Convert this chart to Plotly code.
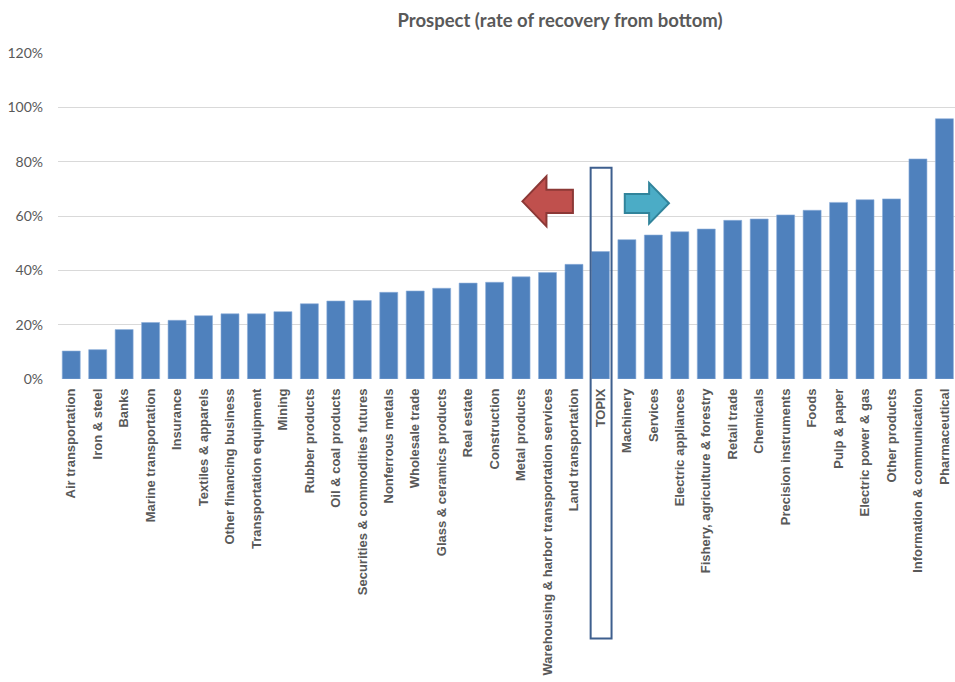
import plotly.graph_objects as go

# Sector recovery rates from the bottom, sorted ascending (TOPIX shown as the benchmark)
sectors = [
    "Air transportation", "Iron & steel", "Banks", "Marine transportation", "Insurance",
    "Textiles & apparels", "Other financing business", "Transportation equipment", "Mining",
    "Rubber products", "Oil & coal products", "Securities & commodities futures",
    "Nonferrous metals", "Wholesale trade", "Glass & ceramics products", "Real estate",
    "Construction", "Metal products", "Warehousing & harbor transportation services",
    "Land transportation", "TOPIX", "Machinery", "Services", "Electric appliances",
    "Fishery, agriculture & forestry", "Retail trade", "Chemicals", "Precision instruments",
    "Foods", "Pulp & paper", "Electric power & gas", "Other products",
    "Information & communication", "Pharmaceutical",
]
recovery = [
    0.103, 0.108, 0.182, 0.208, 0.216, 0.233, 0.240, 0.240, 0.248, 0.277, 0.287, 0.289,
    0.319, 0.324, 0.334, 0.353, 0.356, 0.376, 0.392, 0.422, 0.469, 0.513, 0.530, 0.542,
    0.552, 0.584, 0.589, 0.604, 0.621, 0.650, 0.660, 0.663, 0.810, 0.958,
]
y_ticks = [0, 0.2, 0.4, 0.6, 0.8, 1.0, 1.2]
y_tick_text = ["0%", "20%", "40%", "60%", "80%", "100%", "120%"]
benchmark = "TOPIX"

idx = list(range(len(sectors)))
bench_i = sectors.index(benchmark)
x_range = [-0.5, 33.4]

fig = go.Figure(
    go.Bar(
        x=idx,
        y=recovery,
        marker=dict(color="#4F81BD", line=dict(color="#8DAEDA", width=0.6)),
        hoverinfo="x+y",
    )
)

grey = "#595959"
fig.update_layout(
    width=955,
    height=682,
    margin=dict(l=58, r=0, t=53, b=303),
    paper_bgcolor="white",
    plot_bgcolor="white",
    bargap=0.32,
    showlegend=False,
    title=dict(
        text="<b>Prospect (rate of recovery from bottom)</b>",
        xref="container", x=560 / 955, xanchor="center",
        yref="container", y=1 - 21 / 682, yanchor="middle",
        font=dict(family="Lato, Open Sans, sans-serif", size=18.5, color=grey),
    ),
    xaxis=dict(
        range=x_range,
        tickmode="array",
        tickvals=idx,
        ticktext=sectors,
        tickangle=-90,
        tickfont=dict(family="Liberation Sans, Arial, sans-serif", size=13, color=grey, weight="bold"),
        showgrid=False,
        zeroline=False,
        showline=False,
        ticks="",
        ticklabelstandoff=6,
    ),
    yaxis=dict(
        range=[0, 1.2],
        tickmode="array",
        tickvals=y_ticks,
        ticktext=y_tick_text,
        tickfont=dict(family="Lato, Open Sans, sans-serif", size=14, color=grey),
        showgrid=True,
        gridcolor="#D9D9D9",
        gridwidth=1.3,
        zeroline=False,
        showline=False,
        ticks="",
        ticklabelstandoff=14,
    ),
)

# Outline around the TOPIX benchmark column, reaching down through its label
span = x_range[1] - x_range[0]
fig.add_shape(
    type="rect",
    xref="x domain", yref="paper",
    x0=(bench_i - 0.37 - x_range[0]) / span,
    x1=(bench_i + 0.42 - x_range[0]) / span,
    y0=-0.796, y1=0.648,
    line=dict(color="#3E5F8E", width=2),
    fillcolor="rgba(0,0,0,0)",
    layer="above",
)


def arrow_path(tail, head_base, tip, y_top, y_bot, shaft_top, shaft_bot, y_tip):
    return (
        f"M {tip},{y_tip} L {head_base},{y_top} L {head_base},{shaft_top} "
        f"L {tail},{shaft_top} L {tail},{shaft_bot} L {head_base},{shaft_bot} "
        f"L {head_base},{y_bot} Z"
    )


# Left-pointing arrow: sectors lagging TOPIX
fig.add_shape(
    type="path", xref="x", yref="y", layer="above",
    path=arrow_path(bench_i - 1.04, bench_i - 2.04, bench_i - 2.95,
                    0.746, 0.562, 0.697, 0.611, 0.654),
    fillcolor="#C0504D", line=dict(color="#8C3836", width=2),
)
# Right-pointing arrow: sectors leading TOPIX
fig.add_shape(
    type="path", xref="x", yref="y", layer="above",
    path=arrow_path(bench_i + 0.92, bench_i + 1.84, bench_i + 2.59,
                    0.722, 0.572, 0.681, 0.611, 0.647),
    fillcolor="#4BACC6", line=dict(color="#31849B", width=2),
)

fig.write_html("out.html")
